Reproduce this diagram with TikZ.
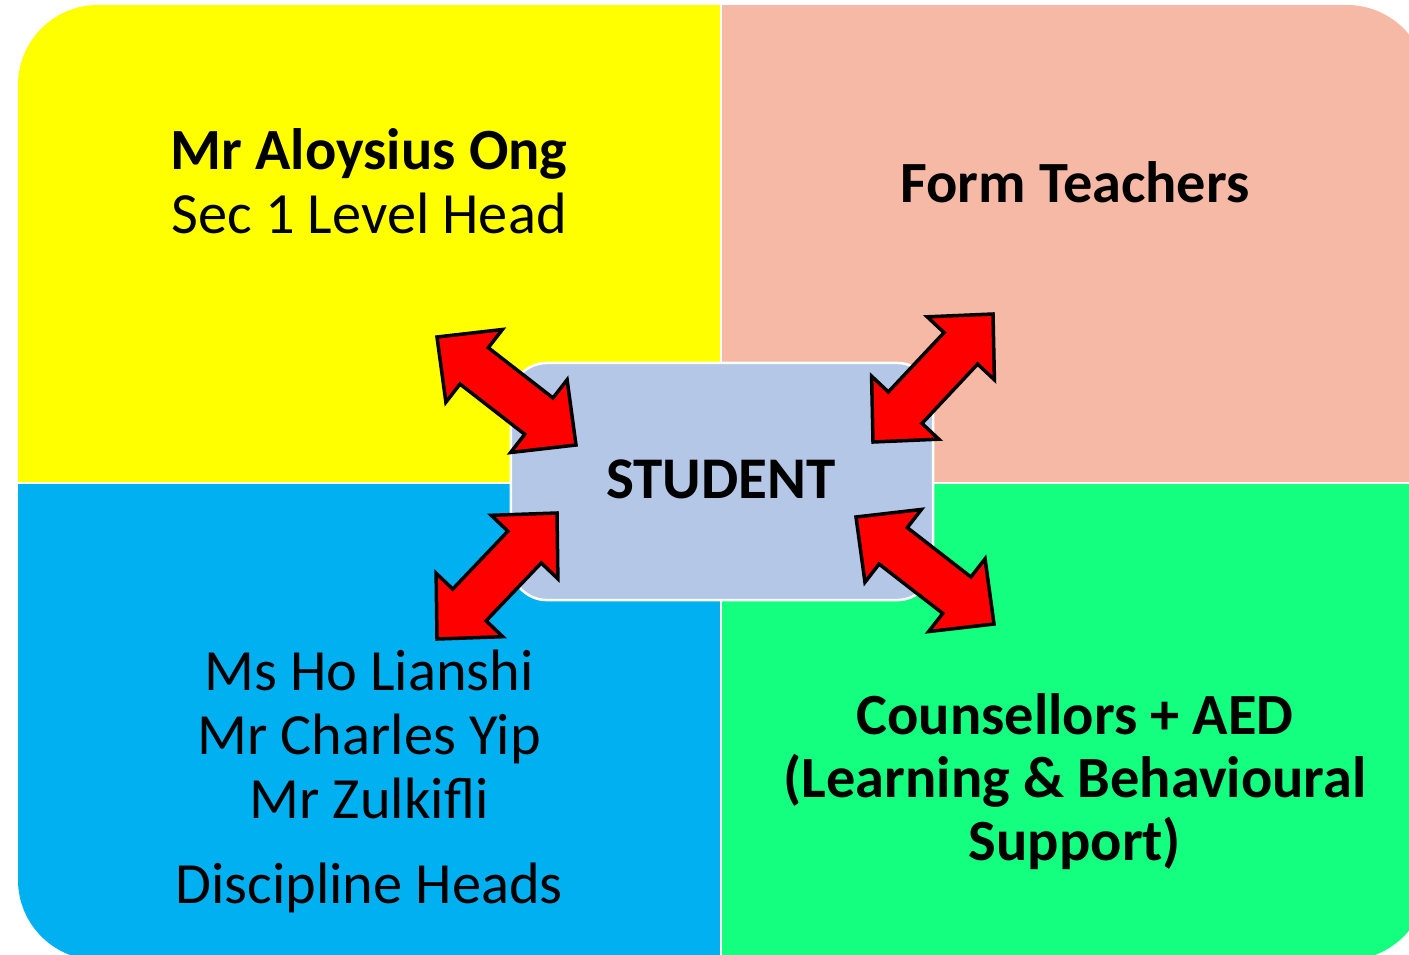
\documentclass[tikz,border=0pt]{standalone}
\usepackage{fontspec}
\setmainfont{Carlito}
\usepackage{xcolor}
\usepackage{tikz}
\definecolor{headyellow}{RGB}{255,255,0}
\definecolor{formpink}{RGB}{246,185,166}
\definecolor{discblue}{RGB}{0,176,240}
\definecolor{counselgreen}{RGB}{20,255,128}
\definecolor{studentblue}{RGB}{180,199,231}
\usetikzlibrary{calc, positioning}

% block arrow with a head at both named ends
\newcommand{\twowayarrow}[2]{%
    \coordinate (h1) at ($(#1)!0.47cm!(#2)$);
    \coordinate (h2) at ($(#2)!0.47cm!(#1)$);
    \draw[bigarrow] (#1) -- ($(h1)!0.46cm!90:(#2)$) -- ($(h1)!0.23cm!90:(#2)$)
        -- ($(h2)!0.23cm!-90:(#1)$) -- ($(h2)!0.46cm!-90:(#1)$) -- (#2)
        -- ($(h2)!0.46cm!90:(#1)$) -- ($(h2)!0.23cm!90:(#1)$)
        -- ($(h1)!0.23cm!-90:(#2)$) -- ($(h1)!0.46cm!-90:(#2)$) -- cycle;
}

\begin{document}
\begin{tikzpicture}[
    x=0.01cm, y=-0.01cm,
    label/.style={inner sep=0pt, align=center, font=\fontsize{16.6pt}{18.2pt}\selectfont},
    boldlabel/.style={label, font=\fontsize{16.6pt}{18.2pt}\selectfont\bfseries},
    student/.style={rectangle, rounded corners=0.36cm, draw=white, line width=0.025cm,
                fill=studentblue, minimum width=4.22cm, minimum height=2.37cm},
    bigarrow/.style={fill=red, draw=black, line width=0.035cm, line join=miter}
]
    \useasboundingbox (0,0) rectangle (1409,954);
    \clip (0,0) rectangle (1409,954);

    % quadrants
    \begin{scope}
        \clip[rounded corners=0.8cm] (18,5) rectangle (1427,960);
        \fill[headyellow] (18,5) rectangle (721,483);
        \fill[formpink] (721,5) rectangle (1427,483);
        \fill[discblue] (18,483) rectangle (721,960);
        \fill[counselgreen] (721,483) rectangle (1427,960);
        \draw[white, line width=0.02cm] (721,5) -- (721,960);
        \draw[white, line width=0.02cm] (18,483) -- (1427,483);
    \end{scope}

    \node[boldlabel] (head) at (369,181) {Mr Aloysius Ong\\\mdseries Sec 1 Level Head};
    \node[boldlabel, anchor=base] (form) at (1075,202) {Form Teachers};
    \node[label] (discnames) at (369,734) {Ms Ho Lianshi\\Mr Charles Yip\\Mr Zulkifli};
    \node[label, anchor=base] (disc) at (369,903) {Discipline Heads};
    \node[boldlabel, font=\fontsize{16.6pt}{17.9pt}\selectfont\bfseries] (counsel) at (1075,782) {Counsellors + AED\\(Learning \& Behavioural\\Support)};

    \node[student] (stu) at (722,481.5) {};
    \node[boldlabel, font=\fontsize{16.8pt}{18pt}\selectfont\bfseries, anchor=base] (stutext) at (721,498) {STUDENT};

    % arrow ends
    \coordinate (a1) at (437,337);  \coordinate (b1) at (576,445);
    \coordinate (a2) at (993,314);  \coordinate (b2) at (873,442);
    \coordinate (a3) at (437,639);  \coordinate (b3) at (557,513);
    \coordinate (a4) at (994,624);  \coordinate (b4) at (856,517);

    \twowayarrow{a1}{b1}
    \twowayarrow{a2}{b2}
    \twowayarrow{a3}{b3}
    \twowayarrow{a4}{b4}
\end{tikzpicture}
\end{document}
